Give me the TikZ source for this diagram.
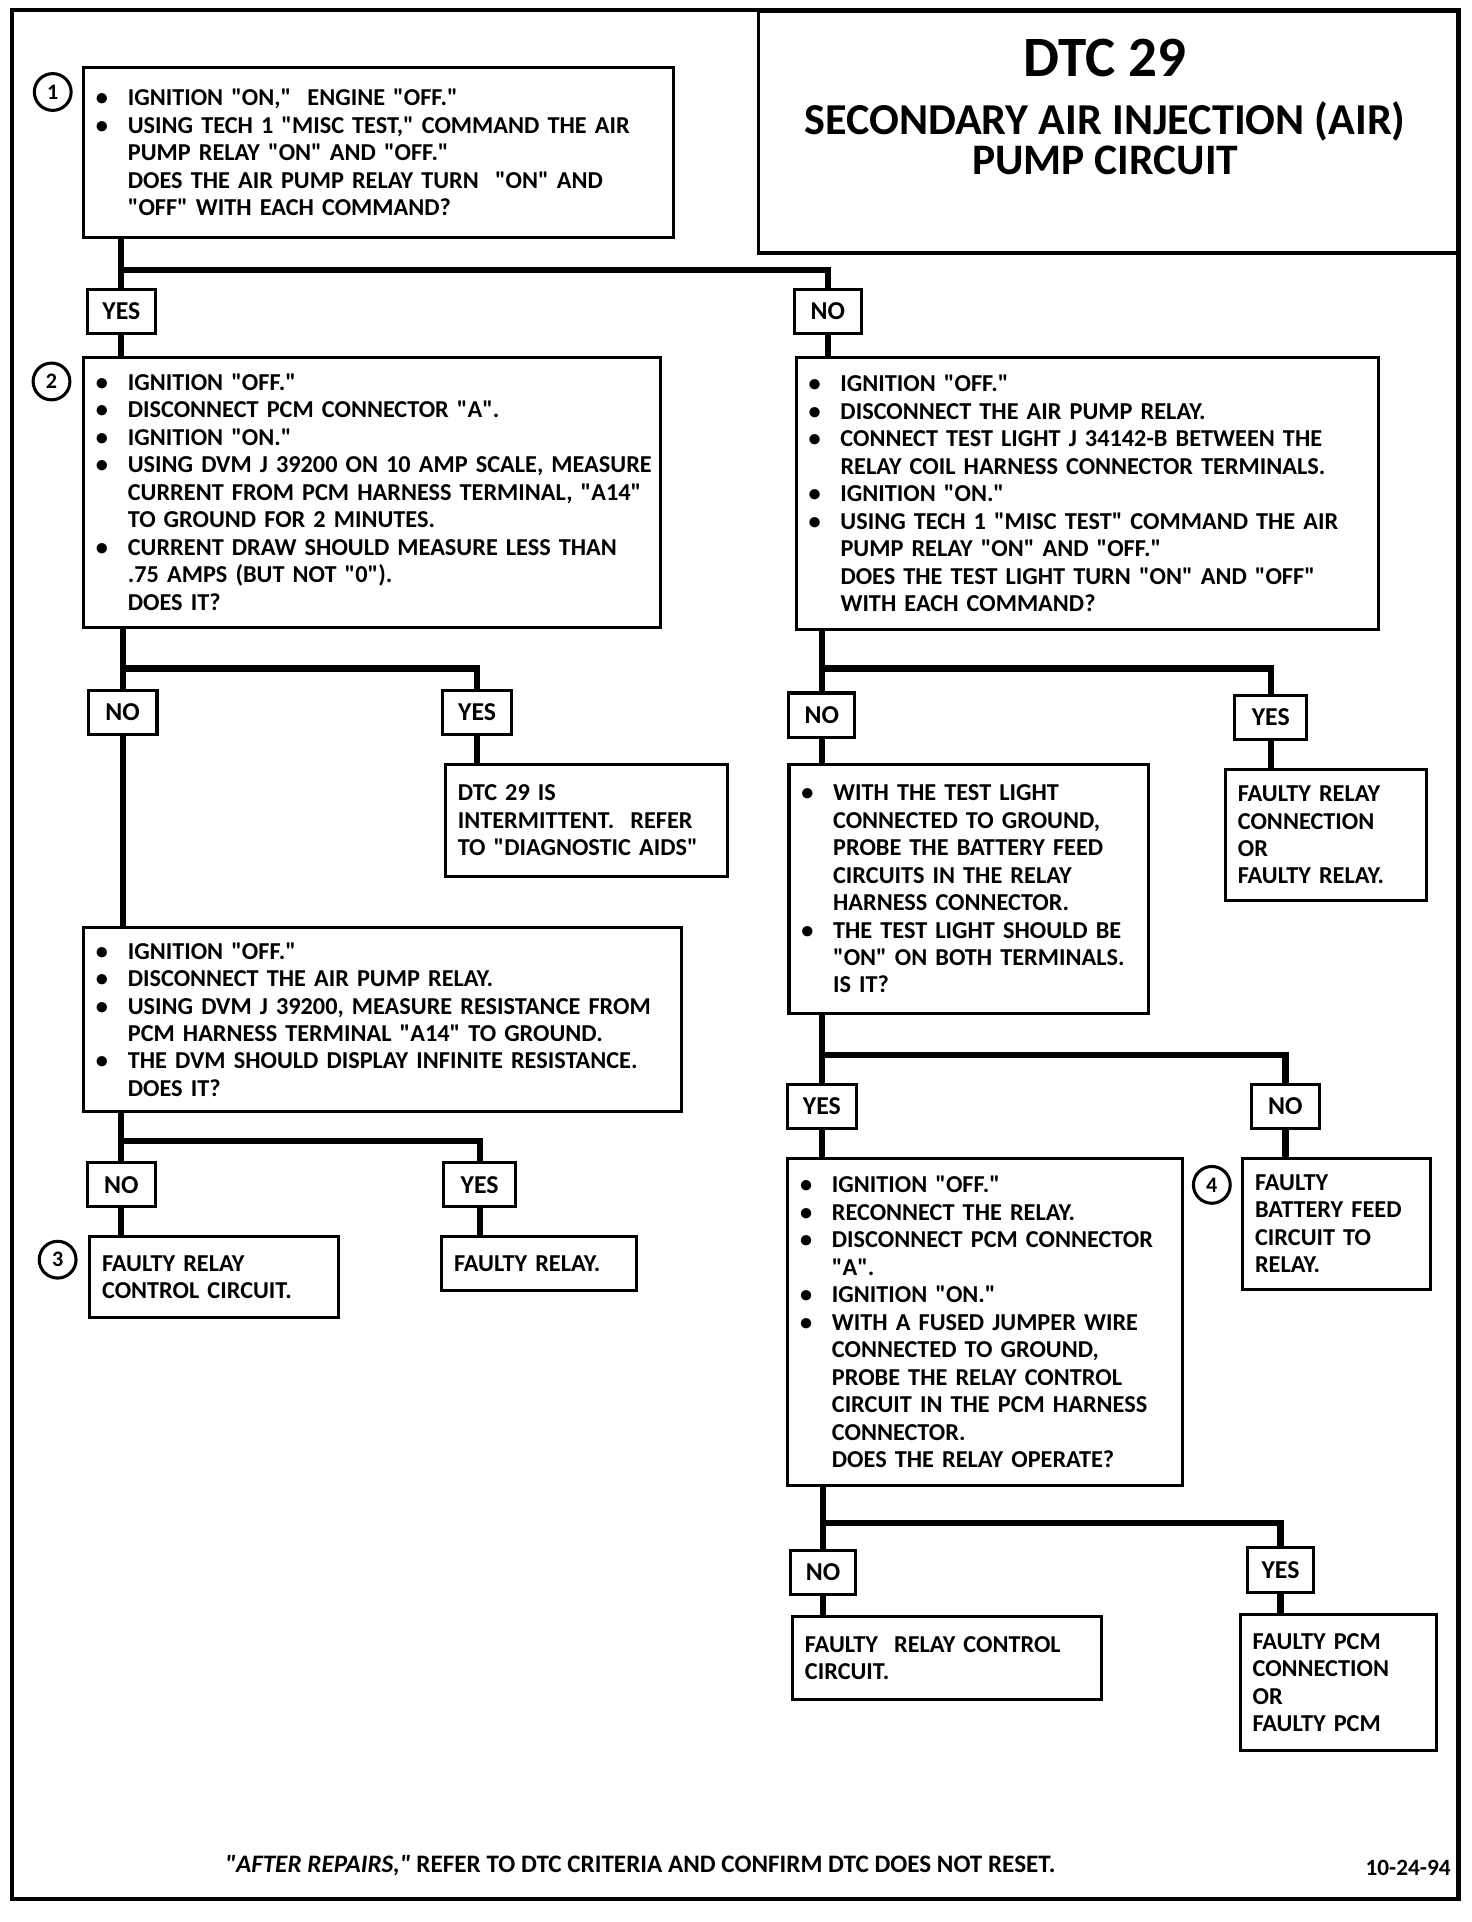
\documentclass[tikz,border=0pt]{standalone}
\usepackage{fontspec}
\setmainfont[Ligatures=TeXOff]{Carlito}
\usepackage{tikz}

\newcommand{\bul}{\makebox[26pt][l]{\textbullet}}
\newcommand{\ind}{\hspace*{26pt}}

\tikzset{
  box/.style={draw, line width=2.5pt, anchor=north west, align=left, inner xsep=10pt, inner ysep=0pt,
    font=\bfseries\fontsize{19.8}{22.4}\selectfont},
  lab/.style={draw, line width=2.5pt, minimum width=56pt, minimum height=36pt, inner sep=0pt,
    font=\bfseries\fontsize{21}{22}\selectfont},
  num/.style={circle, draw, line width=2.5pt, minimum size=30pt, inner sep=0pt,
    font=\bfseries\fontsize{18}{20}\selectfont},
  wire/.style={line width=5pt}
}

\begin{document}
\begin{tikzpicture}[x=1pt, y=-1pt]
    \useasboundingbox (0,0) rectangle (1200,1567);
    \draw[line width=3.5pt] (10,8) rectangle (1189,1548);

    % title
    \node[draw, line width=2.5pt, anchor=north west, minimum width=572pt, minimum height=197pt] (title) at (617,8) {};
    \node[font=\bfseries\fontsize{46.5}{50}\selectfont] (ttl1) at (901,47) {DTC 29};
    \node[font=\bfseries\fontsize{36}{40}\selectfont] (ttl2) at (901,99) {SECONDARY AIR INJECTION (AIR)};
    \node[font=\bfseries\fontsize{35.5}{40}\selectfont] (ttl3) at (901,131) {PUMP CIRCUIT};

    % left column
    \node[box, text width=461pt, minimum height=138pt] (b1) at (67,54) {%
      \bul IGNITION "ON,"\ \ ENGINE "OFF."\\
      \bul USING TECH 1 "MISC TEST," COMMAND THE AIR\\
      \ind PUMP RELAY "ON" AND "OFF."\\
      \ind DOES THE AIR PUMP RELAY TURN\ \ "ON" AND\\
      \ind "OFF" WITH EACH COMMAND?};
    \node[num] (c1) at (43,75) {1};

    \node[lab] (yes1) at (99,254) {YES};
    \node[lab, minimum width=54pt] (no1) at (675,254) {NO};

    \node[box, text width=450pt, minimum height=220pt] (b2) at (67,290) {%
      \bul IGNITION "OFF."\\
      \bul DISCONNECT PCM CONNECTOR "A".\\
      \bul IGNITION "ON."\\
      \bul \mbox{USING DVM J 39200 ON 10 AMP SCALE, MEASURE}\\
      \ind \mbox{CURRENT FROM PCM HARNESS TERMINAL, "A14"}\\
      \ind TO GROUND FOR 2 MINUTES.\\
      \bul CURRENT DRAW SHOULD MEASURE LESS THAN\\
      \ind .75 AMPS (BUT NOT "0").\\
      \ind DOES IT?};
    \node[num] (c2) at (42,311) {2};

    \node[lab] (no2) at (100,581) {NO};
    \node[lab] (yes2) at (389,581) {YES};

    \node[box, text width=210pt, minimum height=91pt] (b4) at (362,622) {%
      DTC 29 IS\\
      INTERMITTENT.\ \ REFER\\
      TO "DIAGNOSTIC AIDS"};

    \node[box, text width=467pt, minimum height=150pt] (b5) at (67,755) {%
      \bul IGNITION "OFF."\\
      \bul DISCONNECT THE AIR PUMP RELAY.\\
      \bul \mbox{USING DVM J 39200, MEASURE RESISTANCE FROM}\\
      \ind PCM HARNESS TERMINAL "A14" TO GROUND.\\
      \bul \mbox{THE DVM SHOULD DISPLAY INFINITE RESISTANCE.}\\
      \ind DOES IT?};

    \node[lab] (no3) at (99,966) {NO};
    \node[lab, minimum width=59pt] (yes3) at (391,966) {YES};

    \node[box, text width=183pt, minimum height=66pt] (b6) at (72,1007) {%
      FAULTY RELAY\\
      CONTROL CIRCUIT.};
    \node[num] (c3) at (47,1027) {3};
    \node[box, text width=139pt, minimum height=44pt] (b7) at (359,1007) {FAULTY RELAY.};

    % right column
    \node[box, text width=455pt, minimum height=222pt] (b3) at (648,290) {%
      \bul IGNITION "OFF."\\
      \bul DISCONNECT THE AIR PUMP RELAY.\\
      \bul CONNECT TEST LIGHT J 34142-B BETWEEN THE\\
      \ind \mbox{RELAY COIL HARNESS CONNECTOR TERMINALS.}\\
      \bul IGNITION "ON."\\
      \bul USING TECH 1 "MISC TEST" COMMAND THE AIR\\
      \ind PUMP RELAY "ON" AND "OFF."\\
      \ind DOES THE TEST LIGHT TURN "ON" AND "OFF"\\
      \ind WITH EACH COMMAND?};

    \node[lab, minimum width=54pt] (no4) at (670,583) {NO};
    \node[lab, minimum width=59pt] (yes4) at (1036,585) {YES};

    \node[box, text width=273pt, minimum height=203pt] (b8) at (642,622) {%
      \bul WITH THE TEST LIGHT\\
      \ind CONNECTED TO GROUND,\\
      \ind PROBE THE BATTERY FEED\\
      \ind CIRCUITS IN THE RELAY\\
      \ind HARNESS CONNECTOR.\\
      \bul THE TEST LIGHT SHOULD BE\\
      \ind "ON" ON BOTH TERMINALS.\\
      \ind IS IT?};
    \node[box, text width=144pt, minimum height=107pt] (b9) at (998,626) {%
      FAULTY RELAY\\
      CONNECTION\\
      OR\\
      FAULTY RELAY.};

    \node[lab] (yes5) at (670,902) {YES};
    \node[lab, minimum width=55pt] (no5) at (1048,902) {NO};

    \node[box, text width=302pt, minimum height=267pt] (b10) at (641,943) {%
      \bul IGNITION "OFF."\\
      \bul RECONNECT THE RELAY.\\
      \bul DISCONNECT PCM CONNECTOR\\
      \ind "A".\\
      \bul IGNITION "ON."\\
      \bul WITH A FUSED JUMPER WIRE\\
      \ind CONNECTED TO GROUND,\\
      \ind PROBE THE RELAY CONTROL\\
      \ind CIRCUIT IN THE PCM HARNESS\\
      \ind CONNECTOR.\\
      \ind DOES THE RELAY OPERATE?};
    \node[box, text width=133pt, minimum height=107pt] (b11) at (1012,943) {%
      FAULTY\\
      BATTERY FEED\\
      CIRCUIT TO\\
      RELAY.};
    \node[num] (c4) at (988,966) {4};

    \node[lab, minimum width=53pt] (no6) at (671,1282) {NO};
    \node[lab, minimum width=54pt] (yes6) at (1044,1280) {YES};

    \node[box, text width=232pt, minimum height=67pt] (b12) at (645,1317) {%
      FAULTY\ \ RELAY CONTROL\\
      CIRCUIT.};
    \node[box, text width=140pt, minimum height=111pt] (b13) at (1010,1315) {%
      FAULTY PCM\\
      CONNECTION\\
      OR\\
      FAULTY PCM};

    % junctions
    \coordinate (j1) at (99,220);
    \coordinate (j2) at (100,545);
    \coordinate (j3) at (99,930);
    \coordinate (j4) at (670,545);
    \coordinate (j5) at (670,860);
    \coordinate (j6) at (671,1242);

    \draw[wire] (b1.south -| yes1) -- (yes1.north);
    \draw[wire] (j1) -| (no1.north);
    \draw[wire] (yes1.south) -- (yes1.south |- b2.north);
    \draw[wire] (no1.south) -- (no1.south |- b3.north);

    \draw[wire] (b2.south -| no2) -- (no2.north);
    \draw[wire] (j2) -| (yes2.north);
    \draw[wire] (yes2.south) -- (yes2.south |- b4.north);
    \draw[wire] (no2.south) -- (no2.south |- b5.north);

    \draw[wire] (b5.south -| no3) -- (no3.north);
    \draw[wire] (j3) -| (yes3.north);
    \draw[wire] (no3.south) -- (no3.south |- b6.north);
    \draw[wire] (yes3.south) -- (yes3.south |- b7.north);

    \draw[wire] (b3.south -| no4) -- (no4.north);
    \draw[wire] (j4) -| (yes4.north);
    \draw[wire] (no4.south) -- (no4.south |- b8.north);
    \draw[wire] (yes4.south) -- (yes4.south |- b9.north);

    \draw[wire] (b8.south -| yes5) -- (yes5.north);
    \draw[wire] (j5) -| (no5.north);
    \draw[wire] (yes5.south) -- (yes5.south |- b10.north);
    \draw[wire] (no5.south) -- (no5.south |- b11.north);

    \draw[wire] (b10.south -| no6) -- (no6.north);
    \draw[wire] (j6) -| (yes6.north);
    \draw[wire] (no6.south) -- (no6.south |- b12.north);
    \draw[wire] (yes6.south) -- (yes6.south |- b13.north);

    % footer
    \node[font=\bfseries\fontsize{20.5}{22}\selectfont] (foot) at (522,1521) {\textit{"AFTER REPAIRS,"} REFER TO DTC CRITERIA AND CONFIRM DTC DOES NOT RESET.};
    \node[font=\bfseries\fontsize{19}{20}\selectfont] (date) at (1148,1523) {10-24-94};
\end{tikzpicture}
\end{document}
